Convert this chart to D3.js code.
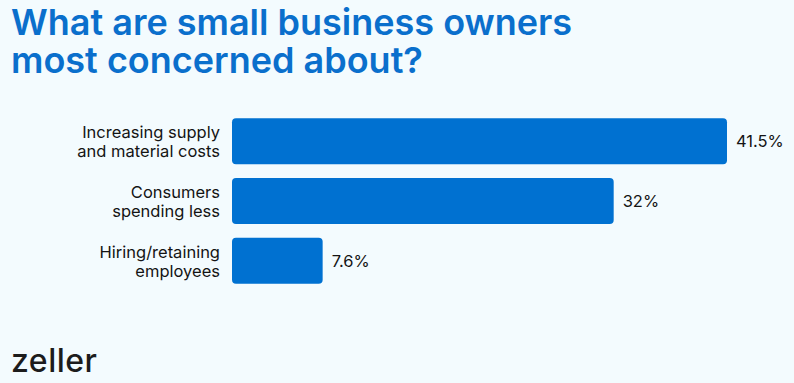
<!DOCTYPE html>
<html>
<head>
<meta charset="utf-8">
<script src="https://cdn.jsdelivr.net/npm/d3@7"></script>
<style>
  html, body { margin: 0; padding: 0; background: #f3fbfe; }
  svg { display: block; font-family: Inter, "Noto Sans", sans-serif; }
</style>
</head>
<body>
<svg id="chart" width="794" height="383"></svg>
<script>
// chart data
const categories = [
  ['Increasing supply', 'and material costs'],
  ['Consumers', 'spending less'],
  ['Hiring/retaining', 'employees']
];
const values = [41.5, 32, 7.6];
const valueLabels = ['41.5%', '32%', '7.6%'];
const titleLines = ['What are small business owners', 'most concerned about?'];

const svg = d3.select('#chart');
const W = 794, H = 383;

svg.append('rect').attr('width', W).attr('height', H).attr('fill', '#f3fbfe');

// title, one text element with a tspan per line
svg.append('text')
  .attr('font-size', 36)
  .attr('font-weight', 600)
  .attr('fill', '#0a6fcc')
  .selectAll('tspan')
  .data(titleLines)
  .join('tspan')
  .attr('x', 11)
  .attr('y', (d, i) => 35 + i * 38)
  .text(d => d);

const x = d3.scaleLinear().domain([0, 41.5]).range([232, 727]);
const y = d3.scaleBand().domain(d3.range(values.length)).range([111, 291]).paddingInner(0.23).paddingOuter(0.12);

const rows = svg.append('g').selectAll('g')
  .data(values)
  .join('g');

rows.append('rect')
  .attr('x', x(0))
  .attr('y', (d, i) => y(i))
  .attr('width', d => x(d) - x(0))
  .attr('height', y.bandwidth())
  .attr('rx', 4)
  .attr('fill', '#0071d1');

rows.append('text')
  .attr('x', d => x(d) + 9)
  .attr('y', (d, i) => y(i) + y.bandwidth() / 2 + 6)
  .attr('font-size', 16.5)
  .attr('fill', '#141414')
  .text((d, i) => valueLabels[i]);

rows.each(function(d, i) {
  const t = d3.select(this).append('text')
    .attr('text-anchor', 'end')
    .attr('font-size', 16.5)
    .attr('fill', '#141414');
  categories[i].forEach((line, j) => {
    t.append('tspan')
      .attr('x', 220)
      .attr('y', y(i) + y.bandwidth() / 2 - 3 + j * 19)
      .text(line);
  });
});

// brand
svg.append('text')
  .attr('x', 11)
  .attr('y', 372)
  .attr('font-size', 32)
  .attr('font-weight', 500)
  .attr('letter-spacing', 0.5)
  .attr('fill', '#1c1c1c')
  .text('zeller');
</script>
</body>
</html>
